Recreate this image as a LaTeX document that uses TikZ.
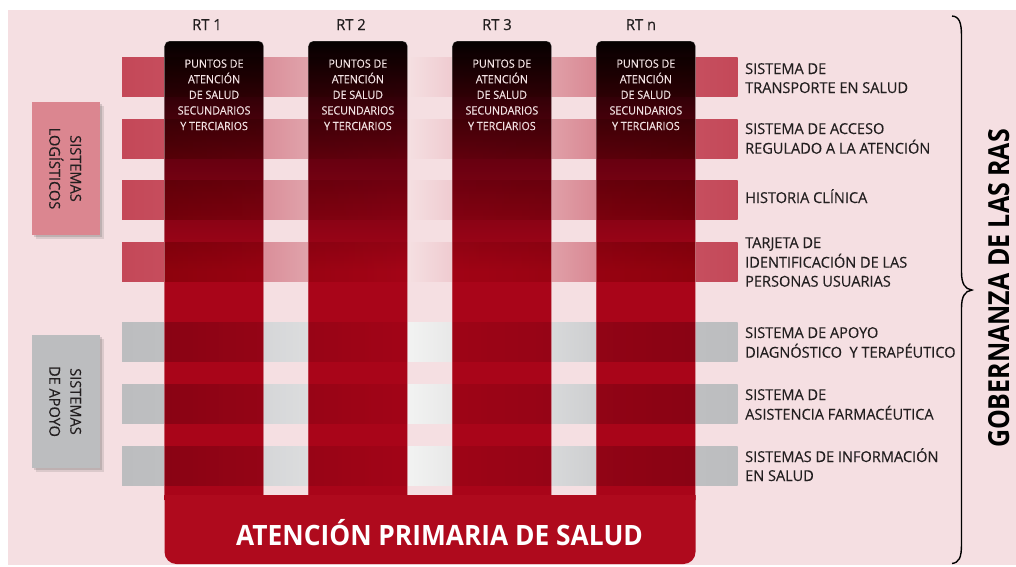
\documentclass[tikz,border=0pt]{standalone}
\usepackage{fontspec}
\setmainfont{Open Sans}
\newfontfamily\condfont{Open Sans}[FakeStretch=0.86]
\newfontfamily\apsfont{Open Sans}[FakeStretch=0.94]
\newfontfamily\lblfont{Open Sans}[FakeStretch=0.97, FakeBold=0.3]
\newfontfamily\smallfont{Open Sans}[FakeStretch=0.94, FakeBold=0.3]
\usetikzlibrary{shadows}
\definecolor{bgpink}{HTML}{F5DFE2}
\definecolor{colred}{HTML}{A90519}
\definecolor{colmid}{HTML}{680010}
\definecolor{colblack}{HTML}{050000}
\definecolor{apsred}{HTML}{AF0A1D}
\definecolor{boxpink}{HTML}{DB8690}
\definecolor{boxgray}{HTML}{BCBDBF}
\definecolor{txtgray}{HTML}{231F20}
\definecolor{coltext}{HTML}{F3E3E4}
\definecolor{rA}{HTML}{C44858}\definecolor{rB}{HTML}{C64D5D}\definecolor{rC}{HTML}{DA8E99}
\definecolor{rD}{HTML}{E0A3AB}\definecolor{rE}{HTML}{F5E0E2}\definecolor{rF}{HTML}{EFCBD0}
\definecolor{rG}{HTML}{E0A0A8}\definecolor{rH}{HTML}{D98893}\definecolor{rI}{HTML}{C64F5F}
\definecolor{gA}{HTML}{BCBDBF}\definecolor{gB}{HTML}{BEBFC1}\definecolor{gC}{HTML}{D5D6D8}
\definecolor{gD}{HTML}{DCDDDE}\definecolor{gE}{HTML}{F2F3F2}\definecolor{gF}{HTML}{E8E8E8}
\definecolor{gG}{HTML}{D8D9DA}\definecolor{gH}{HTML}{CDCED0}\definecolor{gI}{HTML}{BEBFC1}
\pgfdeclareverticalshading{colshade}{100bp}{color(0bp)=(colred); color(25bp)=(colred); color(49.9bp)=(colred); color(62bp)=(colmid); color(75bp)=(colblack); color(100bp)=(colblack)}
\pgfdeclarehorizontalshading{redband}{100bp}{color(0bp)=(rA); color(25bp)=(rA); color(28.5bp)=(rB); color(36.46bp)=(rC); color(40.12bp)=(rD); color(48.17bp)=(rE); color(51.83bp)=(rF); color(59.88bp)=(rG); color(63.54bp)=(rH); color(71.5bp)=(rI); color(75bp)=(rA); color(100bp)=(rA)}
\pgfdeclarehorizontalshading{grayband}{100bp}{color(0bp)=(gA); color(25bp)=(gA); color(28.5bp)=(gB); color(36.46bp)=(gC); color(40.12bp)=(gD); color(48.17bp)=(gE); color(51.83bp)=(gF); color(59.88bp)=(gG); color(63.54bp)=(gH); color(71.5bp)=(gI); color(75bp)=(gA); color(100bp)=(gA)}
\newcommand{\leftlines}[1]{\begin{tabular}[t]{@{}l@{}}#1\end{tabular}}
\newcommand{\centlines}[1]{\begin{tabular}[t]{@{}c@{}}#1\end{tabular}}
\newcommand{\midlines}[1]{\begin{tabular}{@{}c@{}}#1\end{tabular}}
\begin{document}
\begin{tikzpicture}[x=1pt,y=-1pt,
  lbl/.style={anchor=base west, inner sep=0pt, text=txtgray, font=\lblfont\fontsize{15}{19}\selectfont},
  coltxt/.style={anchor=base, inner sep=0pt, text=coltext, font=\smallfont\fontsize{11.4}{15.6}\selectfont},
  rthead/.style={anchor=base, inner sep=0pt, text=txtgray, font=\lblfont\fontsize{15.2}{17}\selectfont},
  sidebox/.style={draw=none, minimum width=68pt, minimum height=133pt, inner sep=0pt,
     drop shadow={shadow xshift=3.5pt, shadow yshift=-3.5pt, fill=black!70, opacity=0.15},
     drop shadow={shadow xshift=2pt, shadow yshift=-2pt, fill=black!70, opacity=0.2}},
  sidetxt/.style={rotate=-90, inner sep=0pt, text=txtgray, font=\lblfont\fontsize{15}{21}\selectfont},
  colframe/.style={draw=white, draw opacity=0.35, line width=0.6pt},
]
\useasboundingbox (0,0) rectangle (1016,566);
\fill[bgpink] (8,10) rectangle (1016,565);
% bands (normal)
\foreach \y in {57,119,180,242} {\shade[shading=redband] (122,\y) rectangle (737.5,\y+39);}
\foreach \y in {322.5,384,446} {\shade[shading=grayband] (122,\y) rectangle (737.5,\y+39);}
% columns
\foreach \x in {164.5,308.3,452.3,596.3} {
  \shade[shading=colshade] (\x,500) [rounded corners=5pt] -- (\x,41) -- (\x+99.2,41) [sharp corners] -- (\x+99.2,500) -- cycle;
}
% bands over columns (multiply)
\begin{scope}
\clip (164.5,41) rectangle (263.7,500) (308.3,41) rectangle (407.5,500)
      (452.3,41) rectangle (551.5,500) (596.3,41) rectangle (695.5,500);
\begin{scope}[blend mode=multiply, opacity=0.7]
\foreach \y in {57,119,180,242} {\shade[shading=redband] (122,\y) rectangle (737.5,\y+39);}
\foreach \y in {322.5,384,446} {\shade[shading=grayband] (122,\y) rectangle (737.5,\y+39);}
\end{scope}
\end{scope}
\foreach \x in {164.5,308.3,452.3,596.3} {
  \draw[colframe] (\x,495) [rounded corners=5pt] -- (\x,41) -- (\x+99.2,41) [sharp corners] -- (\x+99.2,495);
}
% bottom bar
\fill[apsred] (164.5,495) [rounded corners=12pt] -- (164.5,564) -- (695.5,564) [sharp corners] -- (695.5,495) -- cycle;
\node[anchor=base, inner sep=0pt, text=white, font=\apsfont\bfseries\fontsize{28}{30}\selectfont] (aps) at (439.5,545) {ATENCIÓN PRIMARIA DE SALUD};
% column headings
\node[rthead] (rt1) at (207,30) {RT 1};
\node[rthead] (rt2) at (351,30) {RT 2};
\node[rthead] (rt3) at (497,30) {RT 3};
\node[rthead] (rtn) at (641,30) {RT n};
% column texts
\node[coltxt] (c1) at (214.1,67.7) {\centlines{PUNTOS DE\\ATENCIÓN\\DE SALUD\\SECUNDARIOS\\Y TERCIARIOS}};
\node[coltxt] (c2) at (357.9,67.7) {\centlines{PUNTOS DE\\ATENCIÓN\\DE SALUD\\SECUNDARIOS\\Y TERCIARIOS}};
\node[coltxt] (c3) at (501.9,67.7) {\centlines{PUNTOS DE\\ATENCIÓN\\DE SALUD\\SECUNDARIOS\\Y TERCIARIOS}};
\node[coltxt] (c4) at (645.9,67.7) {\centlines{PUNTOS DE\\ATENCIÓN\\DE SALUD\\SECUNDARIOS\\Y TERCIARIOS}};
% right labels
\node[lbl] (l1) at (745,74) {\leftlines{SISTEMA DE\\TRANSPORTE EN SALUD}};
\node[lbl] (l2) at (745,134) {\leftlines{SISTEMA DE ACCESO\\REGULADO A LA ATENCIÓN}};
\node[lbl] (l3) at (745,203) {\leftlines{HISTORIA CLÍNICA}};
\node[lbl] (l4) at (745,248) {\leftlines{TARJETA DE\\IDENTIFICACIÓN DE LAS\\PERSONAS USUARIAS}};
\node[lbl] (l5) at (745,338) {\leftlines{SISTEMA DE APOYO\\DIAGNÓSTICO\ \ Y TERAPÉUTICO}};
\node[lbl] (l6) at (745,400) {\leftlines{SISTEMA DE\\ASISTENCIA FARMACÉUTICA}};
\node[lbl] (l7) at (745,462) {\leftlines{SISTEMAS DE INFORMACIÓN\\EN SALUD}};
% side boxes
\node[sidebox, fill=boxpink] (logbox) at (66,168.5) {};
\node[sidetxt] (logtxt) at (64,168.5) {\midlines{SISTEMAS\\LOGÍSTICOS}};
\node[sidebox, fill=boxgray] (apobox) at (66,401.5) {};
\node[sidetxt] (apotxt) at (64,401.5) {\midlines{SISTEMAS\\DE APOYO}};
% brace
\draw[line width=1.4pt, black] (952,16) .. controls (959,16.5) and (961.5,22) .. (961.5,36) -- (961.5,272)
  .. controls (961.5,284) and (965,289) .. (972,290) .. controls (965,291) and (961.5,296) .. (961.5,308)
  -- (961.5,544) .. controls (961.5,558) and (959,562.5) .. (952,563.5);
\node[rotate=90, anchor=base, inner sep=0pt, text=black, font=\condfont\bfseries\fontsize{29}{30}\selectfont] (gob) at (1009,288.5) {GOBERNANZA DE LAS RAS};
\end{tikzpicture}
\end{document}
